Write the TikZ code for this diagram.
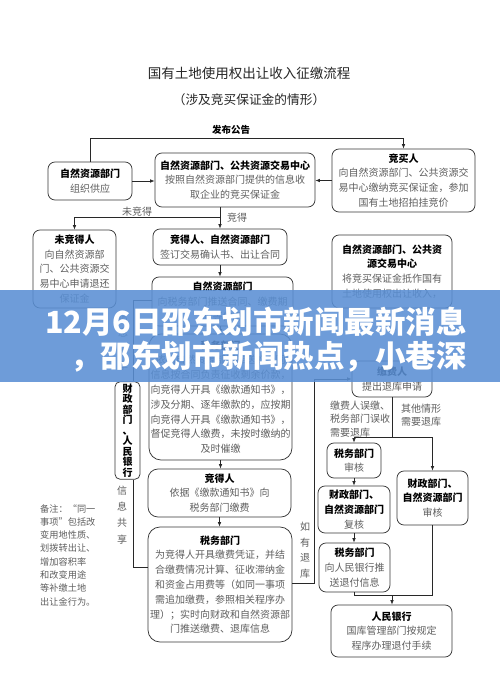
\documentclass[tikz,border=0pt]{standalone}
\usepackage{fontspec}
\setmainfont{Noto Sans CJK SC}
\usepackage{xcolor}
\usepackage{tikz}
\usetikzlibrary{arrows.meta}
\definecolor{boxgray}{RGB}{55,55,55}
\definecolor{bodygray}{RGB}{95,95,95}
\definecolor{linegray}{RGB}{40,40,40}
\definecolor{bannerblue}{RGB}{90,143,212}
\newcommand{\boxhead}[1]{\textcolor{black}{\bfseries #1}}
\tikzstyle{procbox} = [rectangle, rounded corners=7pt,
fill=white, draw=boxgray, line width=0.75pt,
align=center, text=bodygray, inner xsep=1pt, inner ysep=2pt,
font=\fontsize{10}{14.8}\selectfont]
\tikzstyle{vertbox} = [procbox, rounded corners=5pt, text=black,
font=\bfseries\fontsize{10}{10.5}\selectfont]
\tikzstyle{flowlabel} = [text=bodygray, inner sep=0pt,
font=\fontsize{10}{13.5}\selectfont]
\tikzstyle{sharelabel} = [flowlabel, align=center,
font=\fontsize{10}{16.2}\selectfont]
\tikzstyle{arrow} = [-{Latex[length=4.5pt, width=3.6pt]}, line width=0.7pt, draw=linegray]
\tikzstyle{link} = [line width=0.7pt, draw=linegray]

\begin{document}
\begin{tikzpicture}[x=1pt, y=-1pt]
    \useasboundingbox (0,0) rectangle (500,677);
    \fill[white] (0,0) rectangle (500,677);

    % headings
    \node (title)    [text=black!85, font=\fontsize{13.5}{14}\selectfont] at (249,73) {国有土地使用权出让收入征缴流程};
    \node (subtitle) [text=black!85, font=\fontsize{12.7}{13}\selectfont] at (249,100) {（涉及竞买保证金的情形）};
    \node (pub)      [font=\bfseries\fontsize{9.5}{10}\selectfont] at (231,130) {发布公告};

    % left and middle column
    \node (supply)   [procbox, minimum width=84pt, minimum height=38pt] at (90,181) {\boxhead{自然资源部门}\\组织供应};
    \node (collect)  [procbox, minimum width=160pt, minimum height=54pt] at (235,180) {\boxhead{自然资源部门、公共资源交易中心}\\按照自然资源部门提供的信息收\\取企业的竞买保证金};
    \node (bidder)   [procbox, minimum width=143pt, minimum height=63pt] at (403.5,180.5) {\boxhead{竞买人}\\向自然资源部门、公共资源交\\易中心缴纳竞买保证金，参加\\国有土地招拍挂竞价};
    \node (loser)    [procbox, minimum width=83pt, minimum height=78pt] at (74.5,269) {\boxhead{未竞得人}\\向自然资源部\\门、公共资源交\\易中心申请退还\\保证金};
    \node (winner)   [procbox, minimum width=134pt, minimum height=36pt] at (220,247) {\boxhead{竞得人、自然资源部门}\\签订交易确认书、出让合同};
    \node (offset)   [procbox, minimum width=120pt, minimum height=73pt] at (392,271.5) {\boxhead{自然资源部门、公共资}\\\boxhead{源交易中心}\\将竞买保证金抵作国有\\土地使用权出让收入，};
    \node (pushinfo) [procbox, minimum width=141pt, minimum height=49pt] at (222.5,301.5) {\boxhead{自然资源部门}\\向税务部门推送合同、缴费期\\限等信息};
    \node (levy)     [procbox, rounded corners=12pt, minimum width=143pt, minimum height=126pt] at (220.5,397) {\boxhead{税务部门}\\依据自然资源部门推送的合同\\信息按合同负责征收剩余价款，\\向竞得人开具《缴款通知书》，\\涉及分期、逐年缴款的，应按期\\向竞得人开具《缴款通知书》，\\督促竞得人缴费，未按时缴纳的\\及时催缴};
    \node (pay)      [procbox, rounded corners=10pt, minimum width=143pt, minimum height=48pt] at (219.5,493) {\boxhead{竞得人}\\依据《缴款通知书》向\\税务部门缴费};
    \node (receipt)  [procbox, rounded corners=12pt, minimum width=144pt, minimum height=115pt] at (220,584.5) {\boxhead{税务部门}\\为竞得人开具缴费凭证，并结\\合缴费情况计算、征收滞纳金\\和资金占用费等（如同一事项\\需追加缴费，参照相关程序办\\理）；实时向财政和自然资源部\\门推送缴费、退库信息};
    \node (finbank)  [vertbox, minimum width=25pt, minimum height=95pt] at (127.5,430.5) {财\\政\\部\\门\\、\\人\\民\\银\\行};

    % refund column
    \node (applicant)  [procbox, minimum width=80pt, minimum height=36pt] at (392,379) {\boxhead{缴费人}\\提出退库申请};
    \node (taxcheck)   [procbox, minimum width=54pt, minimum height=35pt] at (354,460.5) {\boxhead{税务部门}\\审核};
    \node (othercheck) [procbox, minimum width=71pt, minimum height=54pt] at (432.5,498) {\boxhead{财政部门、}\\\boxhead{自然资源部门}\\审核};
    \node (recheck)    [procbox, minimum width=72pt, minimum height=47pt] at (354,509.5) {\boxhead{财政部门、}\\\boxhead{自然资源部门}\\复核};
    \node (taxpush)    [procbox, minimum width=71pt, minimum height=49pt] at (354.5,567.5) {\boxhead{税务部门}\\向人民银行推\\送退付信息};
    \node (pbc)        [procbox, minimum width=121pt, minimum height=52pt] at (391.5,631) {\boxhead{人民银行}\\国库管理部门按规定\\程序办理退付手续};

    % note
    \node (remark) [flowlabel, align=left, anchor=north west, font=\fontsize{9.2}{13.3}\selectfont] at (40,504) {备注：“同一\\事项”包括改\\变用地性质、\\划拨转出让、\\增加容积率\\和改变用途\\等补缴土地\\出让金行为。};

    % connectors
    \coordinate (bar) at (0,138);
    \draw[link] (supply.north) -- (supply.north |- bar) -- (bidder.north |- bar);
    \draw[arrow] (bidder.north |- bar) -- (bidder.north);
    \draw[arrow] (supply.east) -- (supply.east -| collect.west);
    \draw[arrow] (bidder.west) -- (bidder.west -| collect.east);

    \coordinate (split) at (220,217);
    \draw[arrow] (collect.south -| winner.north) -- (winner.north);
    \draw[arrow] (split) -| (loser.north);
    \node (lostlabel) [flowlabel] at (137,212) {未竞得};
    \node (wonlabel)  [flowlabel] at (237,218) {竞得};

    \draw[arrow] (winner.south) -- (winner.south |- pushinfo.north);
    \draw[arrow] (pushinfo.south -| levy.north) -- (levy.north);
    \draw[arrow] (levy.south) -- (levy.south |- pay.north);
    \draw[arrow] (pay.south) -- (pay.south |- receipt.north);

    \coordinate (shareup) at (133,300);
    \coordinate (sharedown) at (133,567);
    \draw[link] (finbank.north -| shareup) -- (shareup) -- (shareup -| pushinfo.west);
    \draw[link] (finbank.south -| sharedown) -- (sharedown) -- (sharedown -| receipt.west);
    \node (shareuplabel)   [sharelabel] at (123,341) {信\\息\\共\\享};
    \node (sharedownlabel) [sharelabel] at (122,515) {信\\息\\共\\享};

    \coordinate (refund) at (314,583);
    \draw[arrow] (receipt.east |- refund) -- (refund) |- (applicant.west);
    \node (refundlabel) [sharelabel, font=\fontsize{10}{15.5}\selectfont] at (305,550) {如\\有\\退\\库};

    \coordinate (fork) at (392,437);
    \draw[link] (applicant.south) -- (fork);
    \draw[arrow] (fork) -| (taxcheck.north);
    \draw[arrow] (fork) -| (othercheck.north);
    \node (misslabel)  [flowlabel, align=left, anchor=west] at (330,419) {缴费人误缴、\\税务部门误收\\需要退库};
    \node (otherlabel) [flowlabel, align=left, anchor=west] at (401,415) {其他情形\\需要退库};

    \draw[arrow] (taxcheck) -- (recheck);
    \draw[arrow] (recheck.south) -- (recheck.south |- taxpush.north);
    \coordinate (join) at (392,595);
    \draw[link] (taxpush.south) |- (join);
    \draw[link] (othercheck.south) |- (join);
    \draw[arrow] (join) -- (join |- pbc.north);

    % banner over the chart
    \fill[bannerblue, opacity=0.88] (0,290) rectangle (500,382);
    \node (headline)  [anchor=west, text=white, inner sep=0pt, font=\bfseries\fontsize{30.5}{31}\selectfont] at (45,322) {12月6日邵东划市新闻最新消息};
    \node (headline2) [anchor=west, text=white, inner sep=0pt, font=\bfseries\fontsize{30.5}{31}\selectfont] at (70,357) {，邵东划市新闻热点，小巷深};
\end{tikzpicture}
\end{document}
